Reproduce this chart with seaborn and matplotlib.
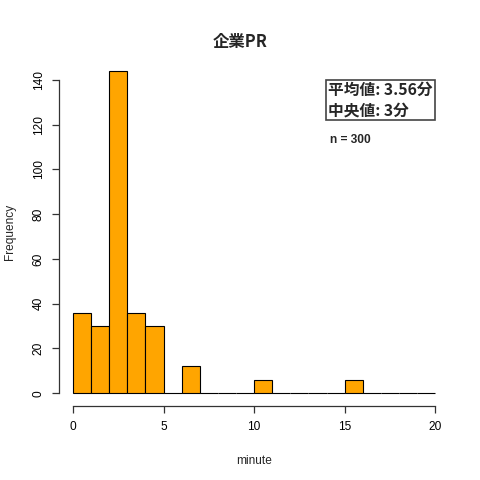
import numpy as np
import matplotlib
matplotlib.use("Agg")
import matplotlib.pyplot as plt
import seaborn as sns

# bin edges (minutes) and counts
bin_edges = list(range(0, 21))
counts = [36, 30, 144, 36, 30, 0, 12, 0, 0, 0, 6, 0, 0, 0, 0, 6, 0, 0, 0, 0]
title = "企業PR"
stats_text = "平均値: 3.56分\n中央値: 3分"
n_text = "n = 300"

sns.set_style("white")
plt.rcParams['font.family'] = ['Liberation Sans', 'Noto Sans CJK JP', 'DejaVu Sans']
cjk = ['Noto Sans CJK JP', 'DejaVu Sans']

mids = [(a + b) / 2 for a, b in zip(bin_edges[:-1], bin_edges[1:])]

fig = plt.figure(figsize=(4.8, 4.8), dpi=100)
ax = fig.add_axes([0.122, 0.154, 0.815, 0.725])

sns.histplot(x=mids, weights=counts, bins=bin_edges, color="#FFA500",
             edgecolor="black", linewidth=0.8, alpha=1, ax=ax)

ax.set_xlim(-0.8, 20.8)
ax.set_ylim(-5.76, 149.76)
ax.set_xticks([0, 5, 10, 15, 20])
ax.set_yticks([0, 20, 40, 60, 80, 100, 120, 140])
for s in ["top", "right"]:
    ax.spines[s].set_visible(False)
ax.spines["bottom"].set_bounds(0, 20)
ax.spines["left"].set_bounds(0, 140)
for s in ["bottom", "left"]:
    ax.spines[s].set_color("#333333")
    ax.spines[s].set_linewidth(0.9)
ax.tick_params(axis="both", direction="out", length=5, width=0.9,
               bottom=True, left=True,
               color="#333333", labelsize=8.6, labelcolor="black")
ax.tick_params(axis="x", pad=6)
ax.tick_params(axis="y", pad=5)
plt.setp(ax.get_yticklabels(), rotation=90, va="center")

ax.set_xlabel("minute", fontsize=8.6)
ax.set_ylabel("Frequency", fontsize=8.6)
ax.xaxis.set_label_coords(0.5, -0.14)
ax.yaxis.set_label_coords(-0.11, 0.5)

fig.text(0.5, 0.912, title, ha="center", va="center", fontsize=11.8,
         fontweight="bold", family=cjk)

ax.text(0.689, 0.932, stats_text, transform=ax.transAxes, ha="left", va="top",
        fontsize=11.3, fontweight="bold", family=cjk, linespacing=1.35,
        bbox=dict(boxstyle="square,pad=0.14", facecolor="white",
                  edgecolor="#444444", linewidth=1.2))
ax.text(0.694, 0.764, n_text, transform=ax.transAxes, ha="left", va="center",
        fontsize=8.6, fontweight="bold")

fig.savefig("out.png", dpi=100)
